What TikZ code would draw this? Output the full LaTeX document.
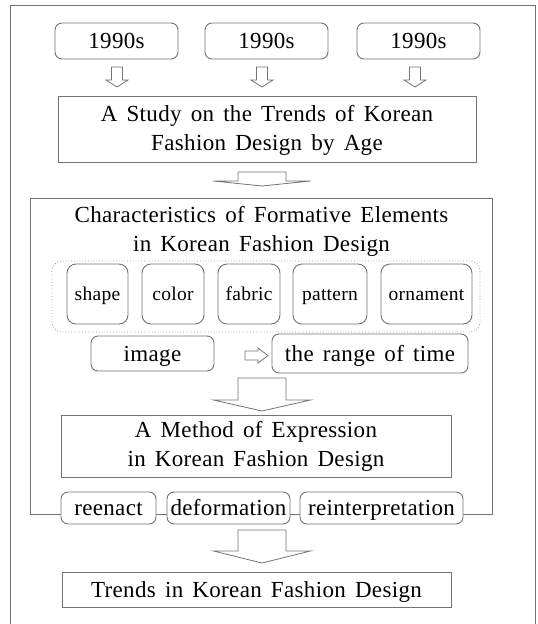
\documentclass[tikz,border=0pt]{standalone}
\usepackage{fontspec}
\setmainfont[WordSpace=1.5, LetterSpace=1.5]{Liberation Serif}
\usetikzlibrary{positioning}
\definecolor{linegray}{gray}{0.45}
\tikzset{
	box/.style={draw=linegray, line width=0.9pt, fill=white, align=center, inner sep=0pt},
	oneline/.style={text height=15pt, text depth=0pt},
	rbox/.style={box, oneline, rounded corners=7pt},
	blockarrow/.style={draw=linegray, line width=0.8pt, fill=white},
	small/.style={font=\fontsize{19.5}{24}\selectfont, text height=13pt, text depth=0pt},
}
\newcommand{\blockdown}[6]{%
	\draw[blockarrow] (#1-#5,#2) -- (#1+#5,#2) -- (#1+#5,#3) -- (#1+#6,#3) -- (#1,#4)
		-- (#1-#6,#3) -- (#1-#5,#3) -- cycle;
}
\begin{document}
\begin{tikzpicture}[x=1pt, y=-1pt, font=\fontsize{23}{29}\selectfont]
\useasboundingbox (0,0) rectangle (538,624);
\draw[linegray, line width=0.9pt] (10,624) -- (10,5) -- (535,5) -- (535,624);
\foreach \x/\n in {116.5/1, 266.5/2, 418.5/3} {
	\node[rbox, minimum width=123pt, minimum height=36pt] (year\n) at (\x,41) {1990s};
}
\foreach \x in {117, 262, 415} {
	\blockdown{\x}{67}{80}{87}{5.5}{11}
}
\node[box, minimum width=418pt, minimum height=66pt] (study) at (267,129)
	{\rule{0pt}{19pt}A Study on the Trends of Korean\\Fashion Design by Age};
\blockdown{262}{172}{181}{186}{24}{48.5}
\draw[linegray, line width=0.9pt] (30,198) rectangle (492,514);
\node[align=center, inner sep=0pt] (chartitle) at (261.5,231)
	{Characteristics of Formative Elements\\in Korean Fashion Design};
\draw[linegray!70, line width=0.8pt, dotted, rounded corners=10pt] (52,261) rectangle (480,332);
\foreach \x/\w/\n in {97.5/61/shape, 173/62/color, 249/62/fabric, 330/74/pattern, 426.5/91/ornament} {
	\node[rbox, small, rounded corners=9pt, minimum width=\w pt, minimum height=60pt] (\n) at (\x,294) {\n};
}
\node[rbox, minimum width=123pt, minimum height=35pt] (image) at (152.5,353.5) {image};
\node[rbox, minimum width=196pt, minimum height=39pt] (range) at (370,353.5) {the range of time};
\draw[blockarrow] (245,351) -- (258,351) -- (258,348) -- (268,355.5) -- (258,363) -- (258,360) -- (245,360) -- cycle;
\blockdown{262}{378}{400}{411}{24}{48.5}
\node[box, minimum width=390pt, minimum height=62pt] (method) at (256,446)
	{A Method of Expression\\in Korean Fashion Design};
\node[rbox, minimum width=95pt, minimum height=32pt] (reenact) at (108.5,508) {reenact};
\node[rbox, minimum width=123pt, minimum height=32pt] (deform) at (228.5,508) {deformation};
\node[rbox, minimum width=163pt, minimum height=32pt] (reinterp) at (381.5,508) {reinterpretation};
\blockdown{262}{530}{551}{563}{24}{48.5}
\node[box, oneline, minimum width=389pt, minimum height=35pt] (trends) at (256.5,589.5)
	{Trends in Korean Fashion Design};
\end{tikzpicture}
\end{document}
